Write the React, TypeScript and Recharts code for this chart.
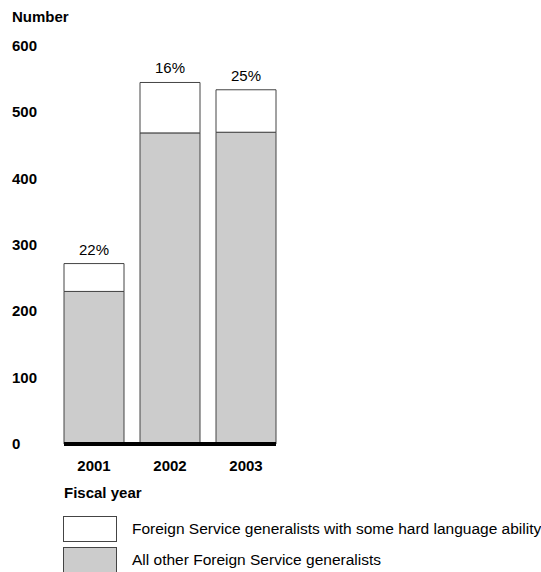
import React from 'react';
import { BarChart, Bar, XAxis, YAxis, LabelList } from 'recharts';

const years = ['2001', '2002', '2003'];
const otherGeneralists = [230, 469, 470];
const hardLanguage = [42, 76, 64];
const shareLabels = ['22%', '16%', '25%'];
const yTicks = [0, 100, 200, 300, 400, 500, 600];

const data = years.map((year, i) => ({
  year,
  other: otherGeneralists[i],
  hard: hardLanguage[i],
  share: shareLabels[i],
}));

const FONT = '"Liberation Sans", Arial, Helvetica, sans-serif';

const YTick = (props: any) => {
  const { y, payload } = props;
  return (
    <text x={12} y={y} dy={5} textAnchor="start" fontFamily={FONT} fontSize={15} fontWeight="bold" fill="#000">
      {payload.value}
    </text>
  );
};

const XTick = (props: any) => {
  const { x, y, payload } = props;
  return (
    <text x={x} y={y} dy={19} textAnchor="middle" fontFamily={FONT} fontSize={15} fontWeight="bold" fill="#000">
      {payload.value}
    </text>
  );
};

const legendItems = [
  { label: 'Foreign Service generalists with some hard language ability', fill: '#ffffff' },
  { label: 'All other Foreign Service generalists', fill: '#cccccc' },
];

export default function App() {
  return (
    <div style={{ position: 'absolute', left: 0, top: 0, width: 541, height: 572, overflow: 'hidden', background: '#fff', fontFamily: FONT }}>
      <div style={{ position: 'absolute', left: 12, top: 8, fontSize: 15, fontWeight: 'bold' }}>Number</div>
      <BarChart
        width={541}
        height={480}
        data={data}
        margin={{ top: 46, right: 265, left: 0, bottom: 6 }}
        barSize={60}
      >
        <YAxis
          type="number"
          domain={[0, 600]}
          ticks={yTicks}
          width={64}
          axisLine={false}
          tickLine={false}
          tick={<YTick />}
        />
        <XAxis
          dataKey="year"
          height={30}
          padding={{ left: -8, right: -8 }}
          axisLine={{ stroke: '#000', strokeWidth: 4 }}
          tickLine={false}
          tick={<XTick />}
        />
        <Bar dataKey="other" stackId="a" fill="#cccccc" stroke="#444" strokeWidth={1} isAnimationActive={false} />
        <Bar dataKey="hard" stackId="a" fill="#ffffff" stroke="#444" strokeWidth={1} isAnimationActive={false}>
          <LabelList dataKey="share" position="top" offset={9} fontFamily={FONT} fontSize={15} fill="#000" />
        </Bar>
      </BarChart>
      <div style={{ position: 'absolute', left: 64, top: 484, fontSize: 15, fontWeight: 'bold' }}>Fiscal year</div>
      {legendItems.map((item, i) => (
        <div key={item.label} style={{ position: 'absolute', left: 63, top: 516 + i * 31, display: 'flex', alignItems: 'center', whiteSpace: 'nowrap' }}>
          <div style={{ width: 54, height: 26, background: item.fill, border: '1px solid #444', boxSizing: 'border-box' }} />
          <span style={{ marginLeft: 15, fontSize: 15.5 }}>{item.label}</span>
        </div>
      ))}
    </div>
  );
}
